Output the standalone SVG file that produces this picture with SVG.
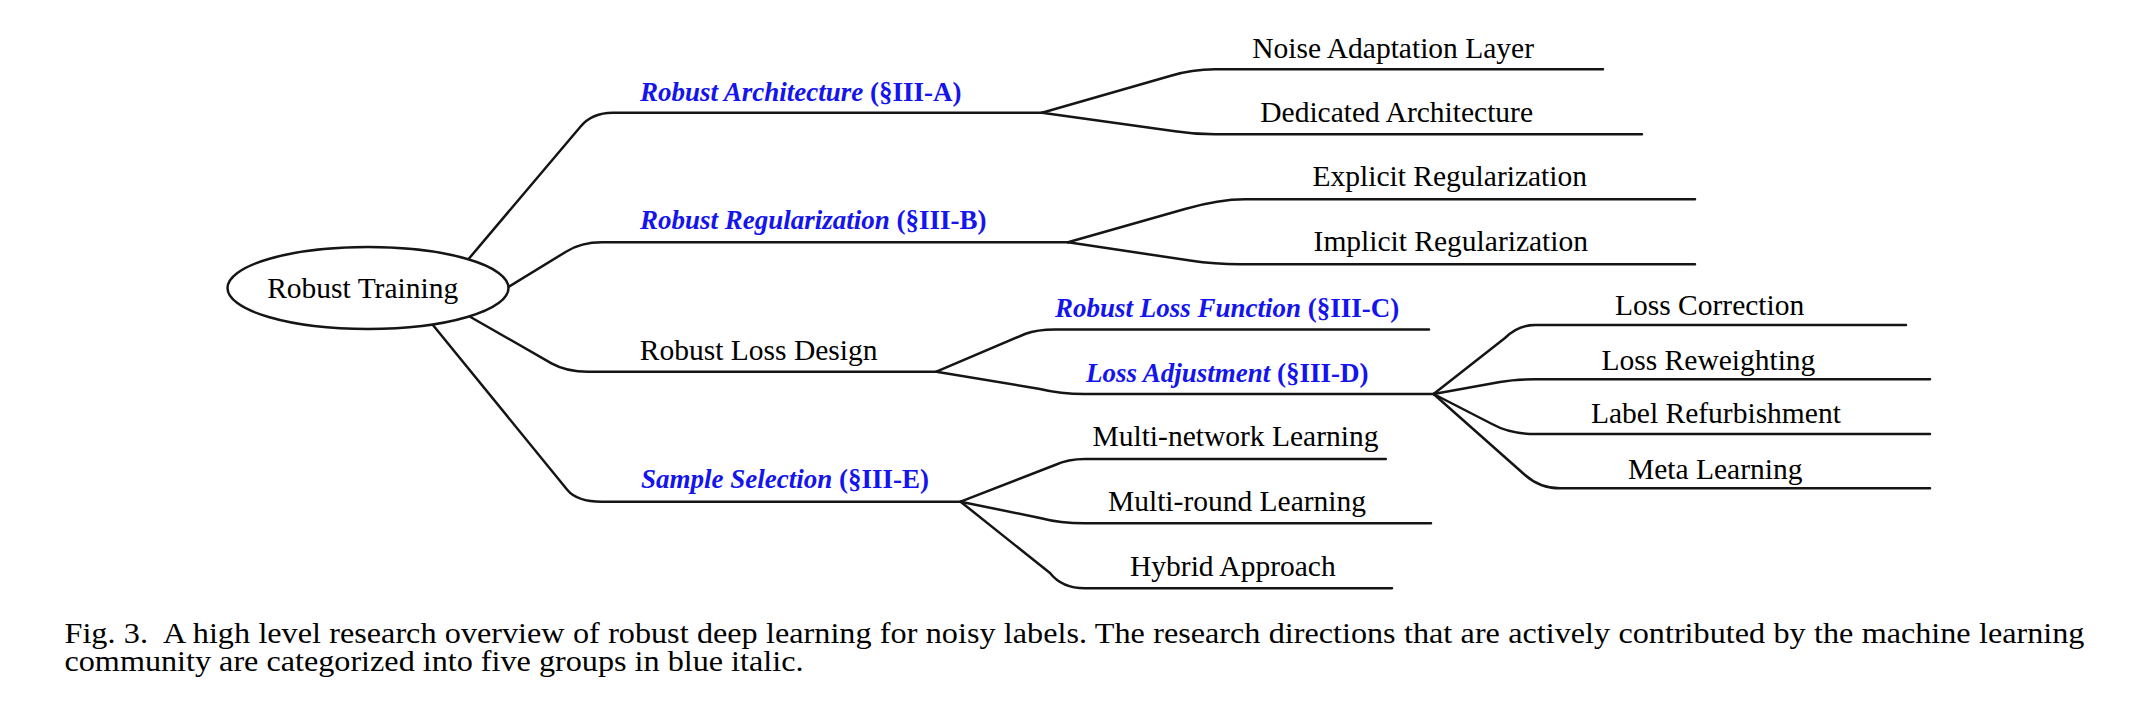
<svg xmlns="http://www.w3.org/2000/svg" width="2146" height="703" viewBox="0 0 2146 703">
<style>
.edge{fill:none;stroke:#151515;stroke-width:2.5;stroke-linejoin:round;stroke-linecap:round}
.t{font-family:"Liberation Serif","Times New Roman",serif;font-size:29.5px;fill:#000}
.b{font-family:"Liberation Serif","Times New Roman",serif;font-size:27px;font-weight:bold;fill:#1414ee}
.cap{font-family:"Liberation Serif","Times New Roman",serif;font-size:29px;fill:#000}
</style>
<rect width="2146" height="703" fill="#fff"/>
<g id="connectors">
<path class="edge" d="M468.6,259 L580.4,126.7 Q592,112.7 612.8,112.7 L1042,112.7"/>
<path class="edge" d="M508.5,287 L566,251.7 Q581,242.3 602,242.3 L1068,242.3"/>
<path class="edge" d="M470.5,317 L551.5,363.3 Q566.5,371.7 588,371.7 L936.4,371.7"/>
<path class="edge" d="M432.5,324.5 L567.4,490 Q577,501.7 601.8,501.7 L960.6,501.7"/>
<path class="edge" d="M1042,112.7 L1170,76 Q1192,69.3 1215,69.3 L1603,69.3"/>
<path class="edge" d="M1042,112.7 L1175,131.2 Q1195,134.3 1215,134.3 L1642,134.3"/>
<path class="edge" d="M1068,242.3 L1185,209 Q1219,199.3 1245,199.3 L1695,199.3"/>
<path class="edge" d="M1068,242.3 L1190,260.5 Q1215,264.3 1240,264.3 L1695,264.3"/>
<path class="edge" d="M936.4,371.7 L1025,334 Q1037,329.5 1055,329.5 L1429,329.5"/>
<path class="edge" d="M936.4,371.7 L1040,389 Q1060,394 1085,394 L1433.6,394"/>
<path class="edge" d="M1433.6,394 L1505,338 Q1518,325 1535,325 L1906,325"/>
<path class="edge" d="M1433.6,394 L1500,382 Q1515,379.3 1535,379.3 L1930,379.3"/>
<path class="edge" d="M1433.6,394 L1492,424 Q1510,434 1535,434 L1930,434"/>
<path class="edge" d="M1433.6,394 L1525,475 Q1540,488.3 1560,488.3 L1930,488.3"/>
<path class="edge" d="M960.6,501.7 L1055,465 Q1068,459 1085,459 L1385.8,459"/>
<path class="edge" d="M960.6,501.7 L1040,518 Q1060,523.3 1085,523.3 L1431,523.3"/>
<path class="edge" d="M960.6,501.7 L1050,573 Q1062,588.3 1085,588.3 L1392,588.3"/>
</g>
<g id="robust-training">
<ellipse cx="368" cy="288" rx="140.5" ry="41" fill="#fff" stroke="#151515" stroke-width="2.5"/>
<text class="t" x="362.7" y="298.3" text-anchor="middle">Robust Training</text>
</g>
<g id="robust-architecture"><text class="b" x="640" y="100.7"><tspan font-style="italic">Robust Architecture</tspan> (§III-A)</text></g>
<g id="robust-regularization"><text class="b" x="640" y="229"><tspan font-style="italic">Robust Regularization</tspan> (§III-B)</text></g>
<g id="robust-loss-design"><text class="t" x="639.8" y="360">Robust Loss Design</text></g>
<g id="sample-selection"><text class="b" x="641" y="488.3"><tspan font-style="italic">Sample Selection</tspan> (§III-E)</text></g>
<g id="noise-adaptation-layer"><text class="t" x="1534" y="57.5" text-anchor="end">Noise Adaptation Layer</text></g>
<g id="dedicated-architecture"><text class="t" x="1533" y="121.7" text-anchor="end">Dedicated Architecture</text></g>
<g id="explicit-regularization"><text class="t" x="1587" y="186" text-anchor="end">Explicit Regularization</text></g>
<g id="implicit-regularization"><text class="t" x="1588" y="251" text-anchor="end">Implicit Regularization</text></g>
<g id="robust-loss-function"><text class="b" x="1055" y="316.7"><tspan font-style="italic">Robust Loss Function</tspan> (§III-C)</text></g>
<g id="loss-adjustment"><text class="b" x="1086" y="381.7"><tspan font-style="italic">Loss Adjustment</tspan> (§III-D)</text></g>
<g id="loss-correction"><text class="t" x="1615" y="315">Loss Correction</text></g>
<g id="loss-reweighting"><text class="t" x="1601.5" y="370">Loss Reweighting</text></g>
<g id="label-refurbishment"><text class="t" x="1591" y="423">Label Refurbishment</text></g>
<g id="meta-learning"><text class="t" x="1628" y="479">Meta Learning</text></g>
<g id="multi-network-learning"><text class="t" x="1092.5" y="446">Multi-network Learning</text></g>
<g id="multi-round-learning"><text class="t" x="1108" y="510.5">Multi-round Learning</text></g>
<g id="hybrid-approach"><text class="t" x="1130" y="575.5">Hybrid Approach</text></g>
<g id="caption" transform="translate(64.5,0) scale(1.11,1)">
<text class="cap" x="0" y="643" word-spacing="0.3">Fig. 3.&#160; A high level research overview of robust deep learning for noisy labels. The research directions that are actively contributed by the machine learning</text>
<text class="cap" x="0" y="671.5">community are categorized into five groups in blue italic.</text>
</g>
</svg>
